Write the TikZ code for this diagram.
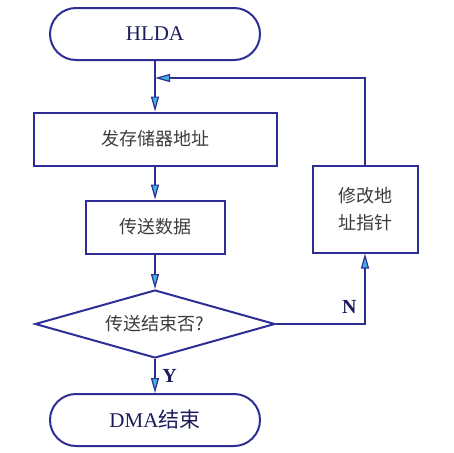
\documentclass[tikz,border=0pt]{standalone}
\usepackage{fontspec}
\setmainfont{Liberation Serif}
\newfontfamily\cjk{Noto Sans CJK SC}
\usetikzlibrary{shapes.geometric,arrows.meta}
\definecolor{lineblue}{HTML}{2E2E96}
\definecolor{tipcyan}{HTML}{3FB4E0}
\definecolor{textgray}{HTML}{3C3C3C}
\definecolor{textnavy}{HTML}{1C1C5C}

\begin{document}
\begin{tikzpicture}[x=1pt, y=-1pt,
  flowline/.style={line width=2pt, draw=lineblue},
  flowarrow/.style={flowline, -{Triangle[length=15pt,width=8pt,line width=1.2pt,fill=tipcyan]}},
  terminalbox/.style={flowline, rectangle, rounded corners=26pt,
    minimum width=210pt, minimum height=52pt,
    font=\fontsize{21}{23}\selectfont, text=textnavy},
  procbox/.style={flowline, rectangle, inner sep=0pt,
    font=\cjk\fontsize{18}{27}\selectfont, text=textgray, align=center},
  decisionbox/.style={flowline, diamond, aspect=3.5, inner sep=0pt,
    minimum width=240pt, minimum height=68pt,
    font=\cjk\fontsize{18}{20}\selectfont, text=textgray},
  branchlabel/.style={font=\bfseries\fontsize{20}{22}\selectfont, text=textnavy}
]
  \useasboundingbox (0,0) rectangle (453,453);

  % main column
  \node[terminalbox] (hlda) at (155,34) {HLDA};
  \node[procbox, minimum width=243pt, minimum height=53pt] (addr) at (155,139) {发存储器地址};
  \node[procbox, minimum width=139pt, minimum height=53pt] (data) at (155,227) {传送数据};
  \node[decisionbox] (check) at (155,324) {传送结束否?};
  \node[terminalbox] (dma) at (155,420) {DMA{\cjk 结束}};

  % loop back
  \node[procbox, minimum width=105pt, minimum height=87pt] (modify) at (365,209) {修改地\\址指针};
  \coordinate (merge) at (155,78);

  \draw[flowarrow] (hlda) -- (addr);
  \draw[flowarrow] (addr) -- (data);
  \draw[flowarrow] (data) -- (check);
  \draw[flowarrow] (check) -- node[branchlabel, right=3pt] {Y} (dma);
  \draw[flowarrow] (check.east) -| node[branchlabel, pos=0.62, left=4pt] {N} (modify.south);
  \draw[flowarrow] (modify.north) |- (merge);
\end{tikzpicture}
\end{document}
